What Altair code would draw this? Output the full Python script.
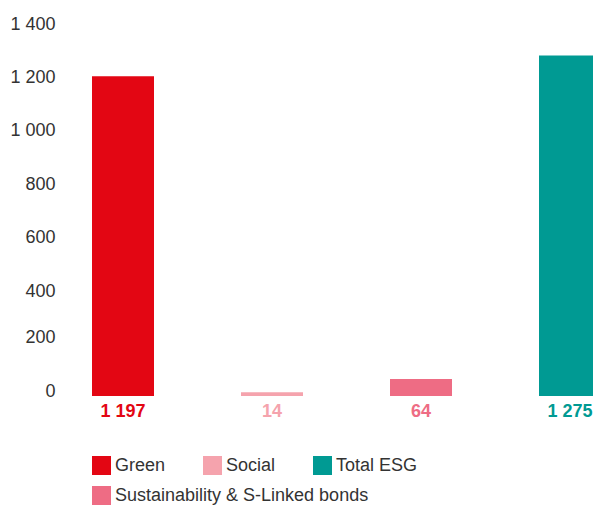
import altair as alt
import pandas as pd

categories = ["Green", "Social", "Sustainability & S-Linked bonds", "Total ESG"]
values = [1197, 14, 64, 1275]
cat_colors = ["#E30613", "#F5A3AD", "#EE6C84", "#009A93"]
legend_row1 = ["Green", "Social", "Total ESG"]
legend_row1_colors = ["#E30613", "#F5A3AD", "#009A93"]
legend_row2 = ["Sustainability & S-Linked bonds"]
legend_row2_colors = ["#EE6C84"]
y_ticks = [0, 200, 400, 600, 800, 1000, 1200, 1400]

df = pd.DataFrame({"category": categories, "value": values})

FONT = "Liberation Sans"
TXT = "#333333"


def legend_at(y):
    return alt.Legend(
        title=None,
        orient="none",
        legendX=32,
        legendY=y,
        direction="horizontal",
        columns=3,
        columnPadding=37,
        symbolType="square",
        symbolSize=361,
        symbolStrokeWidth=0,
        symbolOpacity=1,
        labelFont=FONT,
        labelFontSize=18,
        labelColor=TXT,
        labelOffset=4,
        labelLimit=400,
        padding=0,
    )


y_axis = alt.Axis(
    values=y_ticks,
    title=None,
    domain=False,
    ticks=False,
    grid=False,
    labelFont=FONT,
    labelFontSize=18,
    labelColor=TXT,
    labelPadding=5,
    labelExpr="replace(format(datum.value, ','), ',', ' ')",
    labelOffset={"condition": {"test": "datum.value <= 200", "value": -5}, "value": 2},
)

x = alt.X(
    "category:N",
    sort=categories,
    axis=None,
    scale=alt.Scale(domain=categories, range=[32, 541], paddingInner=0.5839, paddingOuter=0),
)
y_scale = alt.Scale(domain=[0, 1400], nice=False)

bars_a = alt.Chart(df).transform_filter(
    alt.FieldOneOfPredicate(field="category", oneOf=legend_row1)
).mark_bar(opacity=1).encode(
    x=x,
    y=alt.Y("value:Q", scale=y_scale, axis=y_axis),
    color=alt.Color("category:N", scale=alt.Scale(domain=legend_row1, range=legend_row1_colors),
                    legend=legend_at(434)),
)

bars_b = alt.Chart(df).transform_filter(
    alt.FieldOneOfPredicate(field="category", oneOf=legend_row2)
).mark_bar(opacity=1).encode(
    x=x,
    y=alt.Y("value:Q", scale=y_scale, axis=y_axis),
    color=alt.Color("category:N", scale=alt.Scale(domain=legend_row2, range=legend_row2_colors),
                    legend=legend_at(464)),
)

labels = alt.Chart(df).transform_calculate(
    label="replace(format(datum.value, ','), ',', ' ')"
).mark_text(
    font=FONT, fontSize=18, fontWeight="bold", baseline="middle", align="center", dy=16
).encode(
    x=x,
    y=alt.Y(datum=0, scale=y_scale, axis=y_axis),
    text="label:N",
    color=alt.Color("category:N", scale=alt.Scale(domain=categories, range=cat_colors), legend=None),
)

chart = alt.layer(bars_a, bars_b, labels).resolve_scale(color="independent").properties(
    width=533,
    height=374,
    autosize=alt.AutoSizeParams(type="none"),
    padding={"left": 52, "top": 14, "right": 0, "bottom": 109},
).configure_view(stroke=None)

chart.save("out.html", embed_options={"renderer": "svg", "actions": False})
